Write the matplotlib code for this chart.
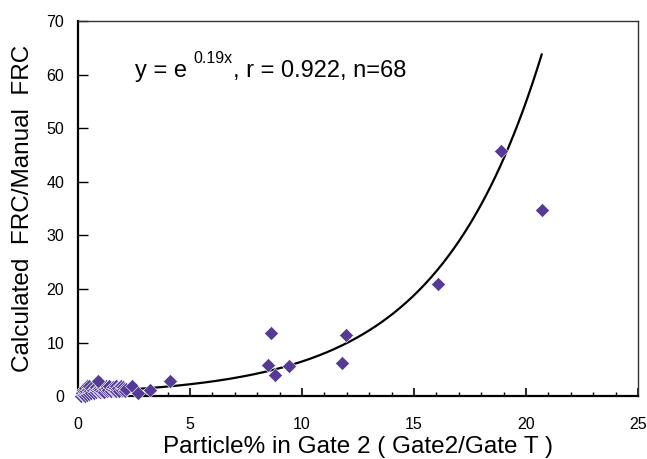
"""Calculated vs manual FRC ratio against particle percentage in gate 2."""

import matplotlib

matplotlib.use("Agg")
import matplotlib.pyplot as plt
import numpy as np

plt.rcParams["font.family"] = ["Liberation Sans", "DejaVu Sans"]

# scatter points (n = 68)
gate2_pct = [
    # low cluster
    0.15, 0.18, 0.20, 0.22, 0.25, 0.28, 0.30, 0.30, 0.35, 0.35,
    0.40, 0.42, 0.45, 0.48, 0.50, 0.50, 0.55, 0.60, 0.60, 0.65,
    0.70, 0.75, 0.80, 0.80, 0.85, 0.90, 0.95, 1.00, 1.00, 1.05,
    1.10, 1.15, 1.20, 1.25, 1.30, 1.30, 1.35, 1.40, 1.45, 1.50,
    1.55, 1.60, 1.65, 1.70, 1.70, 1.75, 1.80, 1.85, 1.90, 1.95,
    2.00, 2.05, 2.10, 2.15,
    # scattered
    0.91, 2.40, 2.69, 3.21, 4.10,
    8.50, 8.62, 8.79, 9.42, 11.80, 11.95,
    16.08, 18.90, 20.70,
]
frc_ratio = [
    0.0, 0.6, 0.2, 1.2, 0.3, 0.9, 1.6, 0.1, 0.5, 1.0,
    1.8, 0.3, 1.2, 0.7, 0.4, 1.9, 1.0, 1.5, 0.5, 1.1,
    0.6, 1.3, 0.8, 1.7, 1.1, 0.9, 1.4, 0.7, 1.2, 1.0,
    1.6, 0.8, 1.3, 1.9, 0.9, 1.5, 1.2, 1.8, 1.0, 1.4,
    1.7, 1.1, 1.6, 0.9, 1.9, 1.3, 1.6, 1.0, 1.8, 1.2,
    1.7, 1.4, 0.9, 1.3,
    2.8, 1.9, 0.5, 1.1, 2.8,
    5.8, 11.8, 3.9, 5.6, 6.1, 11.5,
    21.0, 45.7, 34.8,
]

# exponential trend line as drawn (y = a * exp(b * x))
TREND_A = 0.76
TREND_B = 0.214

FIT_LABEL = "y = e "
FIT_EXPONENT = "0.19x"
FIT_STATS = ", r = 0.922, n=68"

X_TICKS = [0, 5, 10, 15, 20, 25]
Y_TICKS = [0, 10, 20, 30, 40, 50, 60, 70]

MARKER_COLOR = "#553a96"

fig = plt.figure(figsize=(6.47, 4.59), dpi=100)
ax = fig.add_axes([0.1206, 0.137, 0.8655, 0.817])

x = np.asarray(gate2_pct)
y = np.asarray(frc_ratio)
ax.scatter(x, y, marker="D", s=52, color=MARKER_COLOR,
           edgecolors="white", linewidths=0.4, zorder=3, clip_on=False)

x_fit = np.linspace(x.min(), x.max(), 300)
ax.plot(x_fit, TREND_A * np.exp(TREND_B * x_fit), color="black", lw=1.6, zorder=2)

ax.set_xlim(0, 25)
ax.set_ylim(0, 70)
ax.set_xticks(X_TICKS)
ax.set_yticks(Y_TICKS)
ax.set_xticks(np.arange(0, 26, 1), minor=True)
ax.tick_params(axis="x", which="major", direction="in", length=5.5, width=1.2,
               labelsize=11.5, pad=15)
ax.tick_params(axis="x", which="minor", direction="in", length=3.2, width=1.0)
ax.tick_params(axis="y", which="major", direction="in", length=7, width=1.0,
               labelsize=11.5, pad=10)

for side in ("left", "bottom"):
    ax.spines[side].set_linewidth(1.6)
for side in ("top", "right"):
    ax.spines[side].set_linewidth(1.0)
    ax.spines[side].set_color("#333333")

ax.set_xlabel("Particle% in Gate 2 ( Gate2/Gate T )", fontsize=17.5, labelpad=3)
ax.set_ylabel("Calculated  FRC/Manual  FRC", fontsize=17.5, labelpad=9)

t1 = ax.text(2.55, 59.5, FIT_LABEL, fontsize=17, va="baseline", ha="left")
t2 = ax.annotate(FIT_EXPONENT, xy=(1, 0), xycoords=t1, xytext=(0, 12),
                 textcoords="offset points", fontsize=11.5, va="bottom", ha="left")
ax.annotate(FIT_STATS, xy=(1, 0), xycoords=(t2, t1), fontsize=17,
            va="bottom", ha="left")

fig.savefig("out.png", dpi=100)
plt.close(fig)
